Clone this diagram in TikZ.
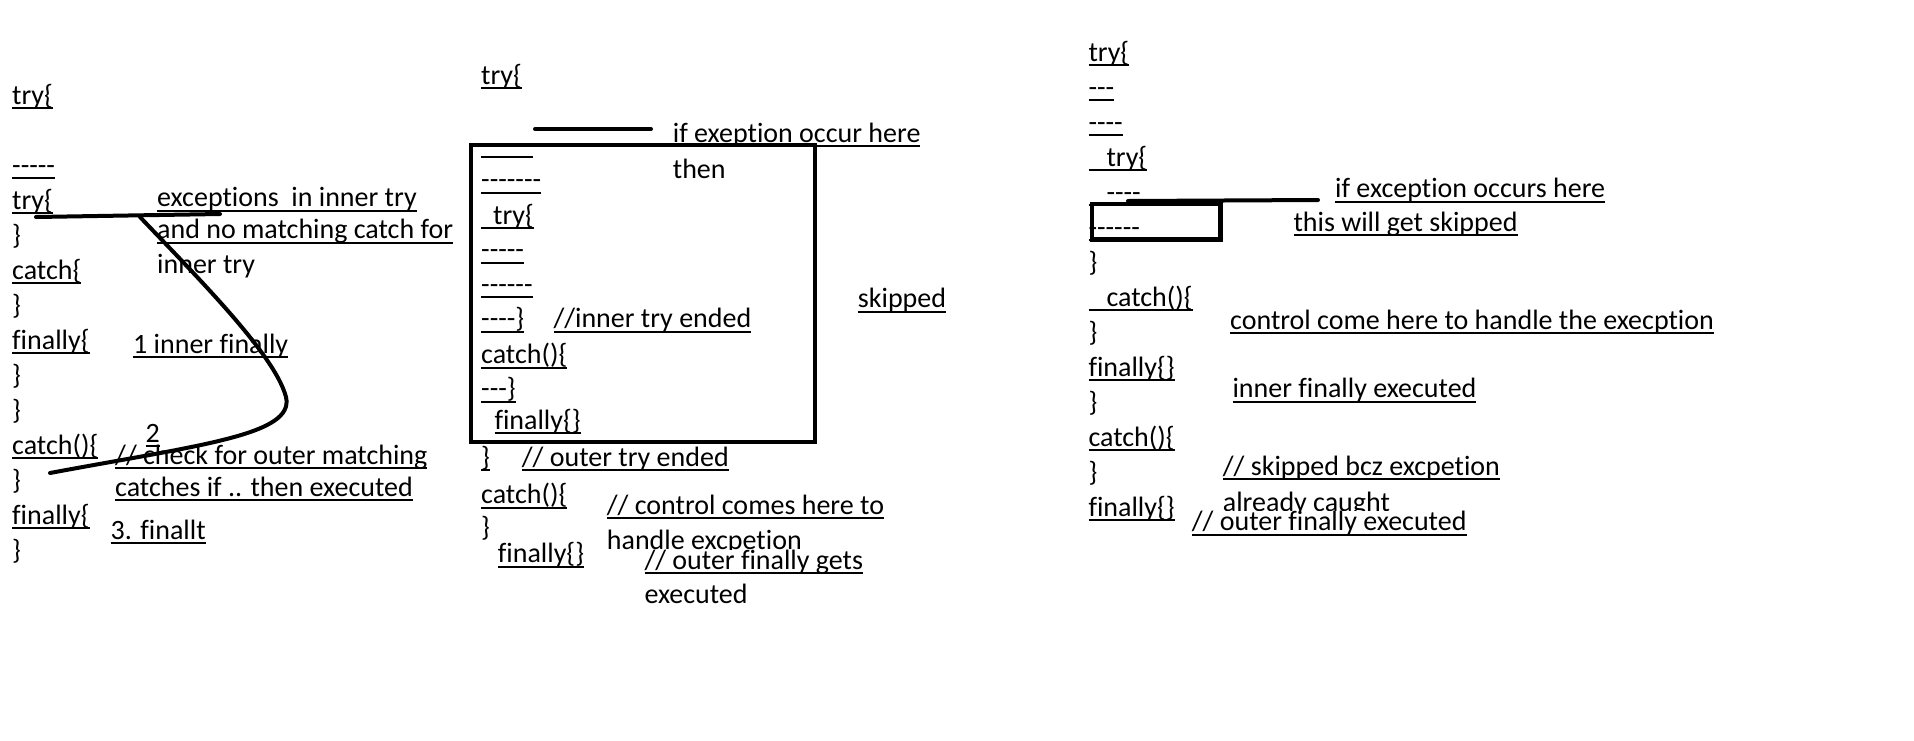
\documentclass[tikz,border=0pt]{standalone}
\usepackage{fontspec}
\setmainfont{Carlito}[Ligatures={TeXOff,CommonOff,ContextualOff}]
\newsavebox\ulbox
\newcommand\undl[1]{\sbox\ulbox{#1}\rlap{\rule[-5pt]{\wd\ulbox}{2pt}}\usebox\ulbox}
\begin{document}
\begin{tikzpicture}[x=1pt,y=-1pt,font=\fontsize{28}{35}\selectfont,line join=round,line cap=round]
	\tikzset{code/.style={anchor=base west,inner sep=0pt},
		cover/.style={code,fill=white},
		scribble/.style={line width=4pt},
		frame/.style={line width=4.5pt,line cap=butt,line join=miter}}
	\fill[white] (0,0) rectangle (1914,740);
	\useasboundingbox (0,0) rectangle (1914,740);
	% left: exception not caught by inner try
	\path
	(12,104)node[code](ltry){\undl{try\{}}
	(12,174)node[code](ldash){\undl{-----}}
	(12,209)node[code](litry){\undl{try\{}}
	(12,244)node[code](libr){\}}
	(12,279)node[code](licatch){\undl{catch\{}}
	(12,314)node[code](librb){\}}
	(12,349)node[code](lifin){\undl{finally\{}}
	(12,384)node[code](librc){\}}
	(12,419)node[code](lbr){\}}
	(12,454)node[code](lcatch){\undl{catch()\{}}
	(12,489)node[code](lbrb){\}}
	(12,524)node[code](lfin){\undl{finally\{}}
	(12,559)node[code](lbrc){\}}
	(157,206.5)node[code](lexc){\undl{exceptions\ \ in inner try}}
	(157,238.5)node[code](lnomatch){\undl{and no matching catch for}}
	(157,273)node[code](linner){inner try}
	(133,353)node[code](lone){\undl{1 inner finally}}
	(145.5,442)node[code](ltwo){\undl{2}}
	(115,464)node[code](lcheck){\undl{// check for outer matching}}
	(115,496)node[code](lcatches){\undl{catches if .. then executed}}
	(110.5,539)node[code](lthree){\undl{3. finallt}}
	;
	\draw[scribble] (36,217)--(220,214);
	\draw[scribble] (140,217) .. controls (200,280) and (275,355) .. (286,397)
		.. controls (295,435) and (200,445) .. (50,473);
	% middle: exception caught by outer catch
	\path
	(481,84.3)node[code](mtry){\undl{try\{}}
	(481,153.3)node[code](mda){\undl{------}}
	(481,188.7)node[code](mdb){\undl{-------}}
	(481,224.3)node[code](mitry){\undl{\hspace{12pt}try\{}}
	(481,258.7)node[code](mdc){\undl{-----}}
	(481,293.3)node[code](mdd){\undl{------}}
	(481,327.7)node[code](miend){\undl{----\}}}
	(553.3,327.7)node[code](miended){\undl{//inner try ended}}
	(481,363.7)node[code](micatch){\undl{catch()\{}}
	(481,397.7)node[code](mibr){\undl{---\}}}
	(494.3,429.3)node[code](mifin){\undl{finally\{\}}}
	(481,466)node[code](mbr){\undl{\}}}
	(521.7,466)node[code](mended){\undl{// outer try ended}}
	(481,503.7)node[code](mcatch){\undl{catch()\{}}
	(481,536)node[code](mbrb){\}}
	(497.7,562.7)node[code](mfin){\undl{finally\{\}}}
	(606.7,514.3)node[code](mcontrol){\undl{// control comes here to}}
	(606.7,549.5)node[code](mhandle){handle excpetion}
	(644.3,569.3)node[cover](mouter){\undl{// outer finally gets}}
	(644.3,603)node[code](mexec){executed}
	(672.7,142)node[code](mif){\undl{if exeption occur here}}
	(672.7,178)node[code](mthen){then}
	(857.7,307.7)node[code](mskip){\undl{skipped}}
	;
	\draw[scribble] (535,129)--(651,129);
	\draw[frame] (471,145) rectangle (815,442);
	% right: exception caught by inner catch
	\path
	(1088.3,61)node[code](rtry){\undl{try\{}}
	(1088.3,96)node[code](rda){\undl{---}}
	(1088.3,131)node[code](rdb){\undl{----}}
	(1088.3,166)node[code](ritry){\undl{\hspace{18pt}try\{}}
	(1088.3,201)node[code](rdc){\undl{\hspace{18pt}----}}
	(1088.3,236)node[code](rdd){\undl{------}}
	(1088.3,271)node[code](rbr){\}}
	(1088.3,306)node[code](ricatch){\undl{\hspace{18pt}catch()\{}}
	(1088.3,341)node[code](rbrb){\}}
	(1088.3,376)node[code](rifin){\undl{finally\{\}}}
	(1088.3,411)node[code](rbrc){\}}
	(1088.3,446)node[code](rcatch){\undl{catch()\{}}
	(1088.3,481)node[code](rbrd){\}}
	(1088.3,516)node[code](rfin){\undl{finally\{\}}}
	(1335,197.7)node[code](rif){\undl{if exception occurs here}}
	(1293.3,231)node[code](rskip){\undl{this will get skipped}}
	(1230,329.3)node[code](rcontrol){\undl{control come here to handle the execption}}
	(1232.3,397.7)node[code](rinner){\undl{inner finally executed}}
	(1222.7,475.3)node[code](rskipped){\undl{// skipped bcz excpetion}}
	(1222.7,511)node[code](ralready){already caught}
	(1191.7,530.5)node[cover](router){\undl{// outer finally executed}}
	;
	\draw[frame] (1092,203.8) rectangle (1220.5,239.5);
	\draw[scribble] (1128,201)--(1318,200);
\end{tikzpicture}
\end{document}
